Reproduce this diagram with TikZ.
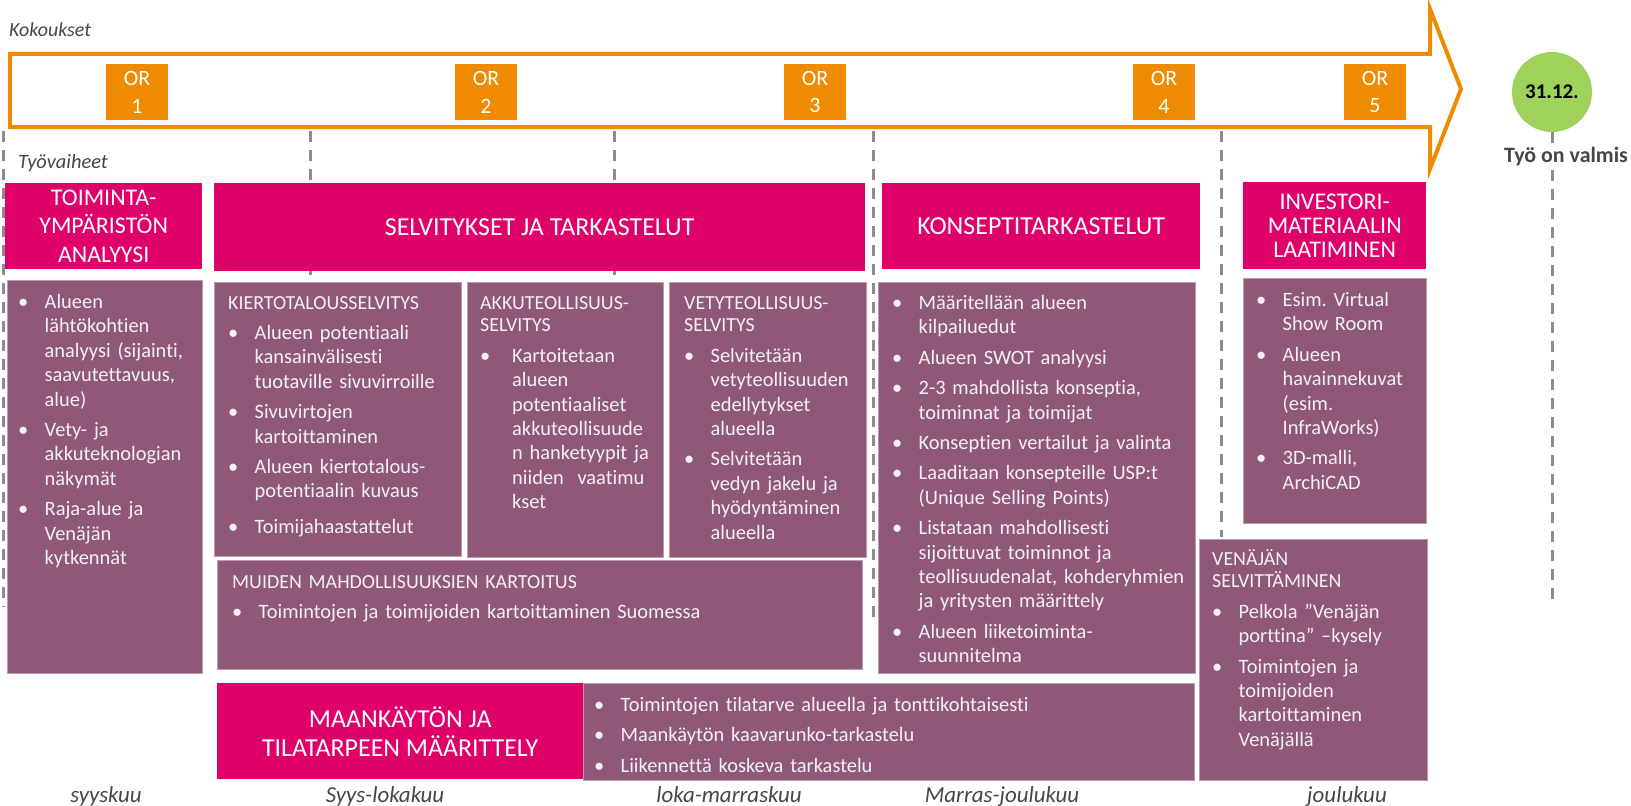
\documentclass[tikz,border=0pt]{standalone}
\usepackage{fontspec}
\setmainfont{Carlito}[Ligatures=NoCommon]

\definecolor{orangeOR}{RGB}{239,139,0}
\definecolor{magentaHd}{RGB}{224,0,106}
\definecolor{plumBox}{RGB}{143,88,121}
\definecolor{greenGoal}{RGB}{158,210,90}
\definecolor{sepGray}{RGB}{140,140,140}
\definecolor{lblGray}{RGB}{70,70,70}
\definecolor{boxText}{RGB}{245,240,243}

\newlength{\bulw}
\setlength{\bulw}{26.5bp}
% first bullet of a box, then the following ones
\newcommand{\itmf}{\leavevmode\unskip\hangindent=\bulw\hangafter=1\hbox to \bulw{\textbullet\hfil}}
\newcommand{\itm}{\par\noindent\itmf}
\newcommand{\subhd}[1]{\leavevmode\unskip{\fontsize{20}{23}\selectfont #1\par}}
\frenchspacing

\begin{document}
\begin{tikzpicture}[
x=1bp, y=-1bp,
phase/.style={
fill=magentaHd,
text=white,
anchor=north west,
inner sep=0pt,
align=center,
font=\fontsize{26}{29}\selectfont,
},
task/.style={
fill=plumBox,
draw=plumBox!60!white,
line width=0.8bp,
anchor=north west,
inner sep=0pt,
},
tasktext/.style={
anchor=base west,
inner sep=0pt,
text=boxText,
text width=#1,
align=left,
font=\fontsize{20.5}{24.5}\selectfont,
execute at begin node={\setlength{\parskip}{6bp}},
},
meet/.style={
fill=orangeOR,
text=white,
minimum width=62bp,
minimum height=55bp,
inner sep=0pt,
align=center,
font=\fontsize{22}{28}\selectfont,
},
month/.style={anchor=base, inner sep=0pt, text=lblGray,
font=\itshape\fontsize{23}{25}\selectfont},
sep/.style={draw=sepGray, line width=3bp, dash pattern=on 11bp off 8bp},
]
\useasboundingbox (0,0) rectangle (1631,806);

% time separators
\foreach \x/\y in {3/607, 310/282, 614/282, 873/620, 1221/537}
\draw[sep] (\x,131) -- (\x,\y);

% meetings arrow
\node[anchor=west, inner sep=0pt, text=lblGray, font=\itshape\fontsize{20}{22}\selectfont]
(meetlbl) at (9,30) {Kokoukset};
\draw[orangeOR, line width=4bp, line join=miter]
(10,54) -- (1430,54) -- (1430,9) -- (1461,89) -- (1430,169) -- (1430,127) -- (10,127) -- cycle;
\foreach \n/\x in {1/137, 2/486, 3/815, 4/1164, 5/1375}
\node[meet] (or\n) at (\x,92) {OR\\\n};

% deadline
\node[circle, fill=greenGoal, minimum size=80bp, inner sep=0pt,
font=\bfseries\fontsize{21}{23}\selectfont] (goal) at (1552,92) {31.12.};
\coordinate (goalend) at (1552,607);
\draw[sep] (goal.south) -- (goalend);
\node[fill=white, inner sep=2bp, text=lblGray, font=\bfseries\fontsize{22}{24}\selectfont]
(done) at (1566,157) {Työ on valmis};

% phases
\node[anchor=west, inner sep=0pt, text=lblGray, font=\itshape\fontsize{20.5}{22}\selectfont]
(phaselbl) at (18,163) {Työvaiheet};
\node[phase, minimum width=197bp, minimum height=86bp, font=\fontsize{24}{28.5}\selectfont]
(envhd) at (5,183) {TOIMINTA-\\YMPÄRISTÖN\\ANALYYSI};
\node[phase, minimum width=651bp, minimum height=88bp] (selvhd) at (214,183)
{SELVITYKSET JA TARKASTELUT};
\node[phase, minimum width=318bp, minimum height=86bp] (konshd) at (882,183)
{KONSEPTITARKASTELUT};
\node[phase, minimum width=183bp, minimum height=87bp, font=\fontsize{24}{24.5}\selectfont]
(invhd) at (1243,182) {INVESTORI-\\MATERIAALIN\\LAATIMINEN};
\node[phase, minimum width=366bp, minimum height=96bp] (maahd) at (217,683)
{MAANKÄYTÖN JA\\TILATARPEEN MÄÄRITTELY};

% task boxes
\node[task, minimum width=195bp, minimum height=393bp] (envbox) at (7,280) {};
\node[task, minimum width=247bp, minimum height=274bp] (kiertobox) at (214,282) {};
\node[task, minimum width=196bp, minimum height=275bp] (akkubox) at (467,282) {};
\node[task, minimum width=197bp, minimum height=275bp] (vetybox) at (669,282) {};
\node[task, minimum width=317bp, minimum height=391bp] (konsbox) at (878,282) {};
\node[task, minimum width=183bp, minimum height=245bp] (invbox) at (1243,278) {};
\node[task, minimum width=645bp, minimum height=109bp] (muidenbox) at (217,560) {};
\node[task, minimum width=611bp, minimum height=97bp] (maabox) at (583,683) {};
\node[task, minimum width=228bp, minimum height=241bp] (venbox) at (1199,539) {};

% task texts
\node[tasktext=182bp] (envtxt) at (18,308.5) {
\itmf Alueen\newline lähtökohtien\newline analyysi (sijainti,\newline saavutettavuus,\newline alue)
\itm Vety- ja\newline akkuteknologian\newline näkymät
\itm Raja-alue ja\newline Venäjän\newline kytkennät\par};
\node[tasktext=230bp] (kiertotxt) at (228,309) {
\subhd{KIERTOTALOUSSELVITYS}
\itm Alueen potentiaali\newline kansainvälisesti\newline tuotaville sivuvirroille
\itm Sivuvirtojen\newline kartoittaminen
\itm Alueen kiertotalous-\newline potentiaalin kuvaus
\par\vspace{5bp}\itm Toimijahaastattelut\par};
\node[tasktext=182bp] (akkutxt) at (480,309) {\setlength{\bulw}{32bp}%
\subhd{AKKUTEOLLISUUS-\newline SELVITYS}
\itm Kartoitetaan\newline alueen\newline potentiaaliset\newline akkuteollisuude\newline
n hanketyypit ja\newline niiden\ \ vaatimu\newline kset\par};
\node[tasktext=180bp] (vetytxt) at (684,309) {
\subhd{VETYTEOLLISUUS-\newline SELVITYS}
\itm Selvitetään\newline vetyteollisuuden\newline edellytykset\newline alueella
\itm Selvitetään\newline vedyn jakelu ja\newline hyödyntäminen\newline alueella\par};
\node[tasktext=300bp] (konstxt) at (892,309.5) {
\itmf Määritellään alueen\newline kilpailuedut
\itm Alueen SWOT analyysi
\itm 2-3 mahdollista konseptia,\newline toiminnat ja toimijat
\itm Konseptien vertailut ja valinta
\itm Laaditaan konsepteille USP:t\newline (Unique Selling Points)
\itm Listataan mahdollisesti\newline sijoittuvat toiminnot ja\newline teollisuudenalat, kohderyhmien\newline ja yritysten määrittely
\itm Alueen liiketoiminta-\newline suunnitelma\par};
\node[tasktext=168bp] (invtxt) at (1256,306.5) {
\itmf Esim. Virtual\newline Show Room
\itm Alueen\newline havainnekuvat\newline (esim.\newline InfraWorks)
\itm 3D-malli,\newline ArchiCAD\par};
\node[tasktext=620bp] (muidentxt) at (232,588) {
\subhd{MUIDEN MAHDOLLISUUKSIEN KARTOITUS}
\itm Toimintojen ja toimijoiden kartoittaminen Suomessa\par};
\node[tasktext=590bp] (maatxt) at (594,711.5) {
\itmf Toimintojen tilatarve alueella ja tonttikohtaisesti
\itm Maankäytön kaavarunko-tarkastelu
\itm Liikennettä koskeva tarkastelu\par};
\node[tasktext=212bp] (ventxt) at (1212,565) {
\subhd{VENÄJÄN\newline SELVITTÄMINEN}
\itm Pelkola ”Venäjän\newline porttina” –kysely
\itm Toimintojen ja\newline toimijoiden\newline kartoittaminen\newline Venäjällä\par};

% months
\foreach \x/\m [count=\i] in {106/syyskuu, 385/Syys-lokakuu, 729/loka-marraskuu,
1002/Marras-joulukuu, 1347/joulukuu}
\node[month] (mon\i) at (\x,802) {\m};

\end{tikzpicture}
\end{document}
